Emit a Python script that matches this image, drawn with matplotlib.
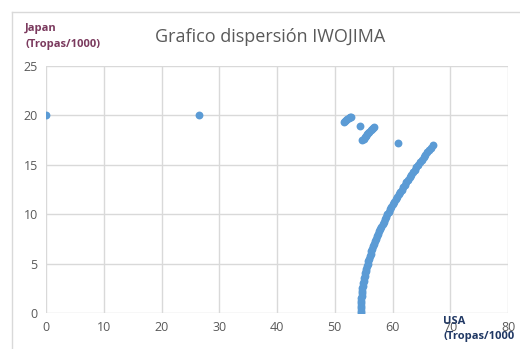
import matplotlib.pyplot as plt
from matplotlib.lines import Line2D

# Scatter points (USA troops/1000, Japan troops/1000)
usa_early = [0, 26.5,
             51.6, 51.8, 52.0, 52.2, 52.4, 52.6, 52.8,
             54.4,
             54.8, 55.0, 55.2, 55.4, 55.6, 55.8, 56.0, 56.2, 56.4, 56.6, 56.8,
             60.9]
japan_early = [20, 20,
               19.3, 19.4, 19.5, 19.6, 19.7, 19.8, 19.88,
               18.95,
               17.5, 17.65, 17.8, 17.95, 18.1, 18.22, 18.35, 18.48, 18.6, 18.7, 18.78,
               17.25]

usa_curve = [54.50, 54.50, 54.51, 54.53, 54.55, 54.57, 54.61, 54.65, 54.69,
             54.74, 54.80, 54.86, 54.93, 55.01, 55.09, 55.17, 55.26, 55.36,
             55.47, 55.58, 55.69, 55.81, 55.94, 56.07, 56.21, 56.35, 56.50,
             56.65, 56.81, 56.98, 57.15, 57.32, 57.50, 57.69, 57.88, 58.08,
             58.28, 58.48, 58.69, 58.91, 59.13, 59.35, 59.58, 59.82, 60.05,
             60.30, 60.54, 60.80, 61.05, 61.31, 61.58, 61.85, 62.12, 62.40,
             62.68, 62.97, 63.25, 63.55, 63.84, 64.14, 64.45, 64.76, 65.07,
             65.38, 65.70, 66.02, 66.35, 66.68, 67.01]
japan_curve = [0, 0.25, 0.5, 0.75, 1, 1.25, 1.5, 1.75, 2, 2.25, 2.5, 2.75,
               3, 3.25, 3.5, 3.75, 4, 4.25, 4.5, 4.75, 5, 5.25, 5.5, 5.75,
               6, 6.25, 6.5, 6.75, 7, 7.25, 7.5, 7.75, 8, 8.25, 8.5, 8.75,
               9, 9.25, 9.5, 9.75, 10, 10.25, 10.5, 10.75, 11, 11.25, 11.5,
               11.75, 12, 12.25, 12.5, 12.75, 13, 13.25, 13.5, 13.75, 14,
               14.25, 14.5, 14.75, 15, 15.25, 15.5, 15.75, 16, 16.25, 16.5,
               16.75, 17]

x_ticks = [0, 10, 20, 30, 40, 50, 60, 70, 80]
y_ticks = [0, 5, 10, 15, 20, 25]

W, H = 520, 349
fig = plt.figure(figsize=(W / 100, H / 100), dpi=100)
ax = fig.add_axes([46 / W, (H - 313) / H, (508 - 46) / W, (313 - 66) / H])

dot = '#5b9bd5'
ax.scatter(usa_early + usa_curve, japan_early + japan_curve,
           s=32, color=dot, zorder=3, linewidths=0)

ax.set_xlim(0, 80)
ax.set_ylim(0, 25)
ax.set_xticks(x_ticks)
ax.set_yticks(y_ticks)
ax.grid(True, color='#d9d9d9', linewidth=1)
ax.set_axisbelow(True)
for s in ax.spines.values():
    s.set_visible(False)
ax.tick_params(length=0, labelsize=9, labelcolor='#595959', pad=6)
for lab in ax.get_xticklabels() + ax.get_yticklabels():
    lab.set_family('Open Sans')

fig.text(270 / W, 1 - 37 / H, 'Grafico dispersión IWOJIMA', ha='center',
         va='center', fontsize=13, color='#595959', family='Open Sans')
fig.text(25 / W, 1 - 28 / H, 'Japan', fontsize=8, fontweight='bold',
         color='#7b3a5e', va='center', family='Open Sans')
fig.text(25 / W, 1 - 44 / H, '(Tropas/1000)', fontsize=8, fontweight='bold',
         color='#7b3a5e', va='center', family='Open Sans')
fig.text(443 / W, 1 - 321 / H, 'USA', fontsize=8, fontweight='bold',
         color='#203864', va='center', family='Open Sans')
fig.text(443 / W, 1 - 336 / H, '(Tropas/1000', fontsize=8, fontweight='bold',
         color='#203864', va='center', family='Open Sans')

# chart area border
fig.add_artist(Line2D([12 / W, 1], [1 - 12 / H, 1 - 12 / H], color='#d9d9d9', lw=1))
fig.add_artist(Line2D([12 / W, 12 / W], [0, 1 - 12 / H], color='#d9d9d9', lw=1))

fig.savefig('out.png', dpi=100)
